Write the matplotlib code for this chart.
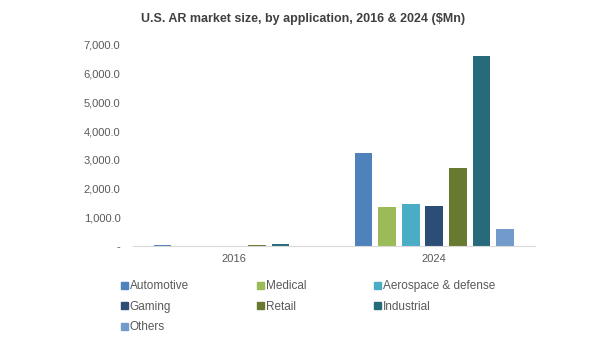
import numpy as np
import matplotlib
matplotlib.use("Agg")
import matplotlib.pyplot as plt
from matplotlib.patches import Patch
from matplotlib.ticker import FuncFormatter

years = ["2016", "2024"]
apps = ["Automotive", "Medical", "Aerospace & defense", "Gaming", "Retail", "Industrial", "Others"]
automotive = [35, 3230]
medical = [10, 1370]
aerospace = [12, 1460]
gaming = [10, 1400]
retail = [40, 2730]
industrial = [75, 6630]
others = [5, 590]
series = [automotive, medical, aerospace, gaming, retail, industrial, others]
colors = ["#4F81BD", "#9BBB59", "#4BACC6", "#2C4D75", "#687A31", "#276A7C", "#729ACA"]

plt.rcParams['font.family'] = ['Arial', 'Liberation Sans', 'DejaVu Sans']

fig = plt.figure(figsize=(6.07, 3.54), dpi=100)
ax = fig.add_axes([0.219, 0.305, 0.662, 0.568])

x = np.arange(len(years))
step = 0.1175
width = step * 0.75
for i, (vals, c) in enumerate(zip(series, colors)):
    ax.bar(x + (i - 3) * step, vals, width, color=c, label=apps[i])

ax.set_xlim(-0.5, 1.5)
ax.set_ylim(0, 7000)
ax.set_yticks(np.arange(0, 7001, 1000))
ax.yaxis.set_major_formatter(FuncFormatter(lambda v, p: "-" if v == 0 else f"{v:,.1f}"))
ax.set_xticks(x)
ax.set_xticklabels(years)
ax.tick_params(axis='both', length=0, labelsize=8, colors="#595959")
ax.tick_params(axis='x', pad=6)
ax.tick_params(axis='y', pad=9)
for s in ["top", "right", "left"]:
    ax.spines[s].set_visible(False)
ax.spines["bottom"].set_color("#D9D9D9")

fig.text(0.5, 0.945, "U.S. AR market size, by application, 2016 & 2024 ($Mn)",
         ha="center", va="center", fontsize=9, fontweight="bold", color="#404040")

order = [0, 3, 6, 1, 4, 2, 5]
handles = [Patch(color=colors[i]) for i in order]
labels = [apps[i] for i in order]
fig.legend(handles, labels, ncol=3, loc="upper left", bbox_to_anchor=(0.2, 0.208),
           frameon=False, fontsize=8.5, handlelength=0.55, handleheight=0.55,
           handletextpad=0.15, columnspacing=5.8, labelspacing=0.72,
           labelcolor="#595959", borderaxespad=0, borderpad=0)

fig.savefig("out.png", dpi=100)
